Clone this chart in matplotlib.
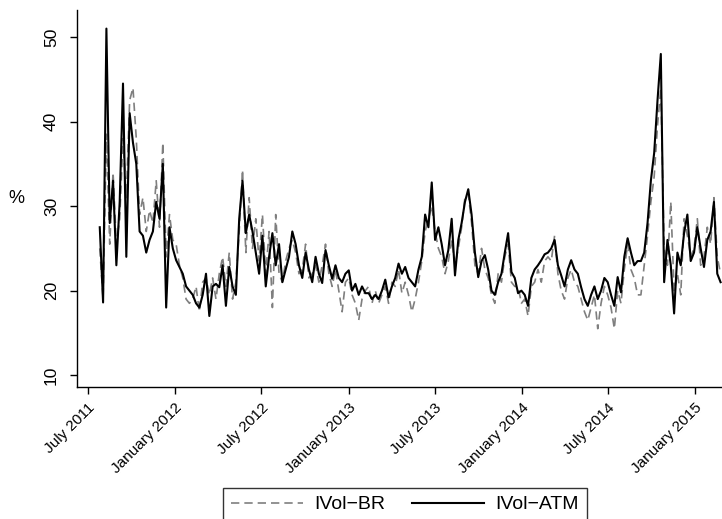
import numpy as np
import pandas as pd
import matplotlib
matplotlib.use("Agg")
import matplotlib.pyplot as plt
import matplotlib.dates as mdates

plt.rcParams.update({
    "font.family": ["Liberation Sans", "DejaVu Sans"],
    "axes.unicode_minus": True,
})

# weekly implied-volatility readings (%), starting 26 Jul 2011
START = "2011-07-26"

ivol_atm = [
    27.5, 18.6, 51.0, 28.0, 33.0, 23.0, 30.5, 44.5, 24.0, 41.0,
    37.5, 35.0, 27.0, 26.5, 24.5, 26.0, 27.0, 30.5, 28.5, 35.0,
    18.0, 27.5, 25.0, 23.6, 22.8, 22.0, 20.5, 20.0, 19.5, 18.5,
    18.0, 19.5, 22.0, 17.0, 20.5, 20.8, 20.4, 23.0, 18.2, 22.8,
    20.5, 19.5, 28.5, 33.0, 26.8, 29.0, 27.0, 24.5, 22.0, 26.5,
    20.5, 24.0, 26.8, 23.0, 25.5, 21.0, 22.5, 24.0, 27.0, 25.5,
    23.0, 21.5, 24.5, 22.5, 21.0, 24.0, 22.0, 20.9, 24.8, 23.0,
    21.4, 23.0, 21.5, 21.0, 22.0, 22.4, 20.0, 20.8, 19.5, 20.5,
    19.7, 19.7, 19.0, 19.5, 19.0, 20.0, 21.3, 19.2, 20.5, 21.5,
    23.2, 22.0, 22.8, 21.5, 21.0, 20.5, 22.5, 24.0, 29.0, 27.5,
    32.8, 26.0, 27.5, 25.5, 23.0, 24.8, 28.5, 21.8, 26.0, 28.0,
    30.5, 32.0, 29.0, 24.5, 21.6, 23.5, 24.2, 22.5, 20.0, 19.5,
    21.0, 22.0, 24.5, 26.8, 22.2, 21.5, 19.7, 20.0, 19.5, 18.2,
    21.5, 22.5, 23.0, 23.6, 24.3, 24.5, 25.0, 26.0, 23.0, 21.8,
    20.5, 22.5, 23.6, 22.5, 22.0, 20.4, 19.0, 18.2, 19.5, 20.5,
    19.0, 20.0, 21.5, 21.0, 19.5, 18.2, 21.6, 19.8, 24.0, 26.2,
    24.5, 23.0, 23.5, 23.5, 24.5, 28.0, 33.0, 36.3, 42.5, 48.0,
    21.0, 26.0, 23.0, 17.3, 24.5, 23.0, 26.8, 29.0, 23.5, 24.5,
    27.5, 25.0, 22.8, 26.0, 27.0, 30.5, 22.0, 21.0,
]

ivol_br = [
    25.0, 19.0, 38.5, 25.5, 34.0, 25.5, 28.5, 38.0, 31.0, 42.5,
    44.0, 38.0, 29.0, 31.0, 27.0, 29.5, 28.0, 33.0, 27.5, 37.5,
    24.0, 29.0, 26.0, 25.5, 23.0, 21.5, 19.0, 18.5, 19.0, 20.5,
    17.5, 21.0, 21.5, 19.5, 21.5, 19.0, 22.0, 24.0, 20.5, 24.5,
    19.0, 21.0, 27.0, 34.3, 24.5, 31.0, 25.0, 28.5, 23.5, 29.0,
    22.0, 27.0, 18.0, 29.0, 22.0, 21.0, 23.5, 25.0, 26.0, 24.5,
    22.0, 22.5, 25.5, 21.5, 22.0, 23.0, 21.0, 23.0, 25.5, 22.0,
    20.5, 22.5, 20.0, 17.5, 21.0, 21.5, 19.5, 18.5, 16.5, 19.0,
    20.0, 20.5, 18.5, 20.0, 18.5, 19.5, 20.5, 18.5, 21.0, 20.5,
    22.5, 19.7, 21.0, 19.5, 17.5, 19.0, 21.0, 23.5, 27.0, 28.5,
    30.0, 27.0, 25.0, 24.0, 22.0, 23.5, 26.0, 23.0, 25.0, 27.5,
    31.0, 31.5, 28.0, 23.0, 22.0, 25.0, 22.5, 21.5, 19.5, 18.5,
    22.0, 21.0, 24.0, 25.5, 21.0, 20.5, 20.5, 18.5, 19.0, 17.0,
    20.5, 21.0, 22.5, 21.0, 23.5, 24.0, 23.5, 26.5, 22.0, 20.0,
    19.0, 21.5, 22.5, 21.0, 20.5, 19.0, 17.5, 16.5, 18.0, 19.5,
    15.5, 18.5, 20.5, 19.5, 18.0, 15.5, 20.0, 18.5, 22.5, 25.5,
    22.5, 21.5, 19.5, 19.5, 23.0, 26.5, 30.5, 33.5, 39.5, 44.0,
    25.0, 23.0, 30.5, 20.0, 22.0, 19.5, 28.5, 26.5, 24.0, 25.0,
    28.5, 23.0, 24.0, 27.5, 25.5, 31.0, 24.0, 22.0,
]

tick_dates = ["2011-07-01", "2012-01-01", "2012-07-01", "2013-01-01",
              "2013-07-01", "2014-01-01", "2014-07-01", "2015-01-01"]
tick_labels = ["July 2011", "January 2012", "July 2012", "January 2013",
               "July 2013", "January 2014", "July 2014", "January 2015"]
y_ticks = [10, 20, 30, 40, 50]

dates = pd.date_range(START, periods=len(ivol_atm), freq="7D")

fig = plt.figure(figsize=(7.22, 5.19), dpi=100)
ax = fig.add_axes([77 / 722, 1 - 387 / 519, 645 / 722, 377 / 519])

ax.plot(dates, ivol_br, color="#7f7f7f", lw=1.2, ls=(0, (5, 3)), label="IVol\u2212BR")
ax.plot(dates, ivol_atm, color="black", lw=1.5, label="IVol\u2212ATM")

ax.set_xlim(pd.Timestamp("2011-06-08"), pd.Timestamp("2015-02-27"))
ax.set_ylim(8.6, 53.2)

ax.set_yticks(y_ticks)
ax.set_yticklabels([str(v) for v in y_ticks], rotation=90, va="center", fontsize=12.5)
ax.set_xticks(pd.to_datetime(tick_dates))
ax.set_xticklabels(tick_labels, rotation=45, ha="right", rotation_mode="anchor", fontsize=11)
ax.tick_params(direction="out", length=5, width=1, color="black", pad=5)
ax.tick_params(axis="y", pad=8)

for side in ("top", "right"):
    ax.spines[side].set_visible(False)
for side in ("left", "bottom"):
    ax.spines[side].set_linewidth(1)

ax.set_ylabel("%", rotation=0, fontsize=13, labelpad=20, va="center")

leg = fig.legend(loc="upper center", bbox_to_anchor=(405 / 722, 1 - 488 / 519),
                 ncol=2, fontsize=14, frameon=True, fancybox=False,
                 handlelength=3.7, handletextpad=0.6, columnspacing=1.35,
                 borderpad=0.4, borderaxespad=0)
leg.get_frame().set_edgecolor("black")
leg.get_frame().set_linewidth(1)

fig.savefig("out.png", dpi=100)
